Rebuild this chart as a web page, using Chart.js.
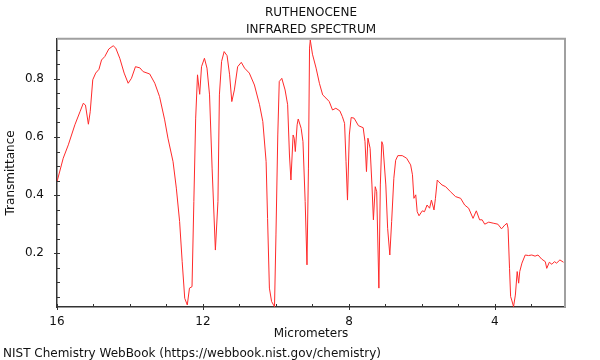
<!DOCTYPE html>
<html lang="en">
<head>
    <meta charset="UTF-8">
    <title>Ruthenocene Infrared Spectrum</title>
    <style>
body {
    margin: 0;
    background: #fff;
    font-family: 'DejaVu Sans', sans-serif;
}
#wrap {
    position: relative;
    width: 600px;
    height: 360px;
}
#footer {
    position: absolute;
    left: 3px;
    top: 346px;
    font-size: 12px;
    line-height: 14px;
    color: #111;
    white-space: nowrap;
}
    </style>
</head>
<body>
    <div id="wrap">
        <canvas id="irChart"></canvas>
        <div id="footer">NIST Chemistry WebBook (https://webbook.nist.gov/chemistry)</div>
    </div>

    <script src="https://cdn.jsdelivr.net/npm/chart.js"></script>
    <script>
        // Spectrum: wavelength (micrometers) and transmittance
        const wavelengths = [
            16.00, 15.83, 15.69, 15.51, 15.37, 15.28, 15.22, 15.14, 15.09, 15.02,
            14.94, 14.85, 14.78, 14.69, 14.58, 14.46, 14.39, 14.28, 14.16, 14.05,
            13.96, 13.85, 13.73, 13.64, 13.46, 13.32, 13.19, 13.05, 12.96, 12.82,
            12.73, 12.64, 12.57, 12.50, 12.43, 12.37, 12.30, 12.25, 12.20, 12.15,
            12.09, 12.04, 11.96, 11.89, 11.82, 11.75, 11.66, 11.59, 11.55, 11.49,
            11.42, 11.34, 11.27, 11.21, 11.14, 11.05, 10.95, 10.86, 10.73, 10.59,
            10.45, 10.36, 10.27, 10.23, 10.18, 10.12, 10.04, 10.00, 9.95, 9.91,
            9.84, 9.75, 9.68, 9.63, 9.59, 9.53, 9.50, 9.47, 9.42, 9.39,
            9.31, 9.26, 9.20, 9.15, 9.11, 9.08, 9.06, 9.00, 8.90, 8.81,
            8.72, 8.63, 8.54, 8.45, 8.36, 8.25, 8.18, 8.12, 8.08, 8.04,
            7.99, 7.94, 7.86, 7.74, 7.61, 7.56, 7.52, 7.48, 7.42, 7.37,
            7.33, 7.28, 7.24, 7.18, 7.14, 7.10, 7.07, 6.99, 6.94, 6.88,
            6.83, 6.77, 6.72, 6.66, 6.54, 6.42, 6.31, 6.26, 6.22, 6.17,
            6.13, 6.08, 5.99, 5.93, 5.86, 5.79, 5.74, 5.67, 5.63, 5.58,
            5.54, 5.45, 5.35, 5.22, 5.08, 4.94, 4.83, 4.72, 4.60, 4.51,
            4.42, 4.35, 4.28, 4.17, 4.03, 3.92, 3.82, 3.73, 3.67, 3.64,
            3.60, 3.57, 3.54, 3.49, 3.44, 3.39, 3.35, 3.32, 3.26, 3.17,
            3.08, 2.99, 2.90, 2.82, 2.72, 2.62, 2.58, 2.51, 2.44, 2.37,
            2.31, 2.22, 2.12
        ];
        const transmittance = [
            0.446, 0.527, 0.573, 0.642, 0.687, 0.716, 0.710, 0.644, 0.687, 0.797,
            0.820, 0.833, 0.865, 0.877, 0.903, 0.914, 0.906, 0.871, 0.820, 0.785,
            0.802, 0.842, 0.838, 0.825, 0.817, 0.785, 0.739, 0.659, 0.596, 0.515,
            0.424, 0.309, 0.171, 0.045, 0.022, 0.080, 0.085, 0.378, 0.665, 0.814,
            0.747, 0.842, 0.871, 0.837, 0.745, 0.493, 0.211, 0.378, 0.745, 0.860,
            0.894, 0.880, 0.814, 0.722, 0.762, 0.842, 0.857, 0.837, 0.820, 0.779,
            0.711, 0.653, 0.515, 0.320, 0.080, 0.034, 0.016, 0.263, 0.607, 0.791,
            0.802, 0.762, 0.711, 0.538, 0.452, 0.607, 0.596, 0.550, 0.642, 0.662,
            0.630, 0.584, 0.378, 0.160, 0.493, 0.906, 0.934, 0.885, 0.837, 0.785,
            0.745, 0.734, 0.722, 0.693, 0.699, 0.690, 0.670, 0.647, 0.515, 0.383,
            0.607, 0.667, 0.665, 0.639, 0.632, 0.584, 0.481, 0.596, 0.561, 0.435,
            0.315, 0.429, 0.412, 0.080, 0.435, 0.584, 0.573, 0.435, 0.286, 0.194,
            0.309, 0.458, 0.520, 0.536, 0.536, 0.527, 0.504, 0.470, 0.389, 0.401,
            0.343, 0.329, 0.346, 0.343, 0.366, 0.355, 0.383, 0.349, 0.389, 0.452,
            0.446, 0.435, 0.429, 0.412, 0.395, 0.389, 0.366, 0.355, 0.320, 0.346,
            0.315, 0.315, 0.300, 0.307, 0.303, 0.300, 0.284, 0.297, 0.303, 0.286,
            0.148, 0.051, 0.039, 0.016, 0.056, 0.137, 0.097, 0.137, 0.166, 0.194,
            0.192, 0.194, 0.190, 0.194, 0.180, 0.171, 0.148, 0.169, 0.162, 0.171,
            0.166, 0.177, 0.169
        ];

        // Axis labels
        const xTickLabels = [16, 12, 8, 4];
        const yTickLabels = [0.2, 0.4, 0.6, 0.8];

        const font = { family: "'DejaVu Sans', sans-serif", size: 12 };

        // Gray frame on top/right plus small inward tick marks
        const frameAndTicks = {
            id: 'frameAndTicks',
            afterDraw(chart) {
                const { ctx, chartArea: a, scales: { x, y } } = chart;
                ctx.save();
                ctx.strokeStyle = '#a0a0a0';
                ctx.lineWidth = 2;
                ctx.beginPath();
                ctx.moveTo(a.left, a.top);
                ctx.lineTo(a.right, a.top);
                ctx.lineTo(a.right, a.bottom);
                ctx.stroke();

                ctx.strokeStyle = '#333';
                ctx.lineWidth = 1;
                ctx.beginPath();
                for (let v = 3; v <= 16; v++) {
                    const px = Math.round(x.getPixelForValue(v)) + 0.5;
                    const major = xTickLabels.includes(v);
                    ctx.moveTo(px, a.bottom - 3);
                    ctx.lineTo(px, a.bottom + (major ? 3 : 0));
                }
                for (let i = 1; i <= 18; i++) {
                    const v = i * 0.05;
                    const py = Math.round(y.getPixelForValue(v)) + 0.5;
                    const major = i % 4 === 0;
                    ctx.moveTo(a.left - (major ? 3 : 0), py);
                    ctx.lineTo(a.left + 3, py);
                }
                ctx.stroke();
                ctx.restore();
            }
        };

        const ctx = document.getElementById('irChart').getContext('2d');
        const irChart = new Chart(ctx, {
            type: 'line',
            data: {
                datasets: [{
                    data: wavelengths.map((w, i) => ({ x: w, y: transmittance[i] })),
                    borderColor: '#ff2a2a',
                    borderWidth: 1,
                    pointRadius: 0,
                    tension: 0,
                    fill: false
                }]
            },
            options: {
                responsive: true,
                maintainAspectRatio: false,
                animation: false,
                layout: {
                    padding: { left: 0, right: 35, top: 0, bottom: 19 }
                },
                plugins: {
                    legend: { display: false },
                    tooltip: { enabled: false },
                    title: {
                        display: true,
                        text: ['RUTHENOCENE', 'INFRARED SPECTRUM'],
                        fullSize: false,
                        color: '#111',
                        font: { ...font, weight: 'normal', lineHeight: 1.45 },
                        padding: { top: 4, bottom: 0 }
                    }
                },
                scales: {
                    x: {
                        type: 'linear',
                        reverse: true,
                        min: 2.08,
                        max: 16,
                        grid: { display: false },
                        border: { display: true, color: '#333', width: 1.5 },
                        afterBuildTicks: axis => {
                            axis.ticks = xTickLabels.map(v => ({ value: v }));
                        },
                        afterFit: scale => { scale.height = 34; },
                        ticks: {
                            color: '#111',
                            font: font,
                            padding: 0,
                            maxRotation: 0,
                            autoSkip: false
                        },
                        title: {
                            display: true,
                            text: 'Micrometers',
                            color: '#111',
                            font: { ...font, lineHeight: 1.2 },
                            padding: { top: 0, bottom: 0 }
                        }
                    },
                    y: {
                        min: 0.015,
                        max: 0.938,
                        grid: { display: false },
                        border: { display: true, color: '#333', width: 1.5 },
                        afterBuildTicks: axis => {
                            axis.ticks = yTickLabels.map(v => ({ value: v }));
                        },
                        afterFit: scale => { scale.width = 57; },
                        ticks: {
                            color: '#111',
                            font: font,
                            padding: 5,
                            callback: v => v.toFixed(1)
                        },
                        title: {
                            display: true,
                            text: 'Transmittance',
                            color: '#111',
                            font: { ...font, lineHeight: 1.2 },
                            padding: { top: 4, bottom: 0 }
                        }
                    }
                }
            },
            plugins: [frameAndTicks]
        });
    </script>
</body>
</html>
